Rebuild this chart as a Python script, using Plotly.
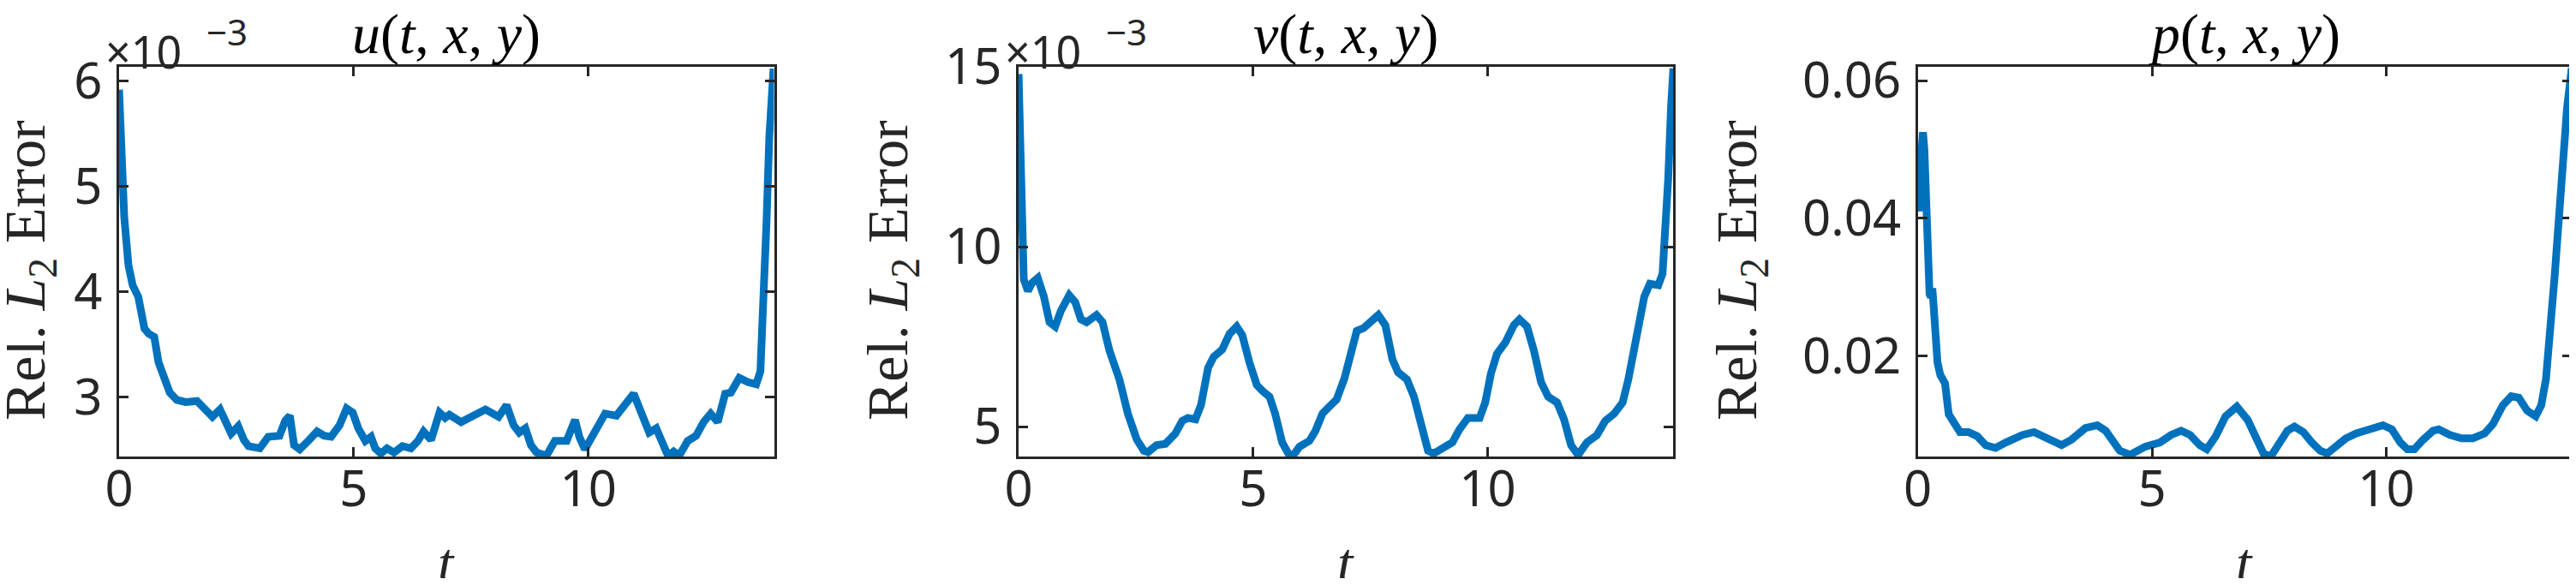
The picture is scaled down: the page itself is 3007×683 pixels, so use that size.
import numpy as np
import plotly.graph_objects as go

# The page body has an 8px margin; the figure is sized so that it fits the
# 3007x683 window without scrollbars and screen pixels map to figure pixels - 8.
OFF = 8
W, H = 3007 - OFF, 683 - 2 * OFF

# ---------------- data ----------------
t_u = [0.00, 0.05, 0.11, 0.20, 0.29, 0.41, 0.54, 0.63, 0.75, 0.84, 0.96, 1.08, 1.23, 1.42,
       1.66, 1.84, 1.99, 2.15, 2.27, 2.39, 2.54, 2.66, 2.76, 3.00, 3.18, 3.42, 3.54, 3.64,
       3.73, 3.85, 4.03, 4.22, 4.37, 4.52, 4.70, 4.85, 4.98, 5.10, 5.25, 5.37, 5.46, 5.58,
       5.71, 5.86, 6.04, 6.22, 6.37, 6.49, 6.65, 6.83, 6.95, 7.04, 7.29, 7.57, 7.81, 8.09,
       8.26, 8.41, 8.53, 8.66, 8.78, 8.90, 9.11, 9.29, 9.54, 9.72, 9.81, 9.93, 10.12, 10.36,
       10.60, 10.78, 10.97, 11.12, 11.30, 11.45, 11.58, 11.70, 11.82, 11.94, 12.12, 12.30,
       12.46, 12.61, 12.76, 12.92, 13.04, 13.22, 13.40, 13.58, 13.67, 13.74, 13.80, 13.86,
       13.95]
u_err_e3 = [5.92, 5.20, 4.71, 4.25, 4.06, 3.95, 3.65, 3.60, 3.57, 3.33, 3.19, 3.04, 2.97, 2.95,
            2.96, 2.88, 2.81, 2.88, 2.78, 2.65, 2.72, 2.59, 2.53, 2.51, 2.62, 2.63, 2.77, 2.82,
            2.54, 2.50, 2.58, 2.67, 2.63, 2.62, 2.73, 2.89, 2.85, 2.70, 2.58, 2.62, 2.51, 2.46,
            2.51, 2.47, 2.53, 2.51, 2.58, 2.67, 2.59, 2.85, 2.80, 2.83, 2.76, 2.82, 2.88, 2.81,
            2.92, 2.73, 2.66, 2.70, 2.54, 2.47, 2.44, 2.58, 2.58, 2.78, 2.62, 2.50, 2.65, 2.84,
            2.82, 2.91, 3.03, 2.86, 2.66, 2.70, 2.54, 2.44, 2.48, 2.44, 2.58, 2.63,
            2.76, 2.84, 2.76, 3.03, 3.04, 3.18, 3.14, 3.12, 3.24, 3.84, 4.66, 5.47,
            6.12]

t_v = [0.00, 0.05, 0.11, 0.20, 0.29, 0.41, 0.54, 0.66, 0.78, 0.90, 1.08, 1.21, 1.33, 1.45,
       1.66, 1.79, 1.94, 2.15, 2.33, 2.52, 2.67, 2.76, 2.94, 3.13, 3.34, 3.49, 3.61, 3.77,
       3.89, 4.04, 4.16, 4.34, 4.50, 4.65, 4.77, 4.92, 5.08, 5.20, 5.35, 5.47, 5.62, 5.75,
       5.84, 5.99, 6.20, 6.33, 6.48, 6.60, 6.78, 6.95, 7.09, 7.21, 7.36, 7.51, 7.67, 7.82,
       7.97, 8.09, 8.28, 8.43, 8.58, 8.73, 8.85, 9.10, 9.25, 9.40, 9.58, 9.83, 9.95, 10.07,
       10.20, 10.38, 10.56, 10.68, 10.84, 10.99, 11.14, 11.29, 11.48, 11.63, 11.78, 11.93,
       12.12, 12.33, 12.51, 12.70, 12.88, 13.00, 13.12, 13.21, 13.34, 13.46, 13.64, 13.73,
       13.79, 13.85, 13.91, 13.96]
v_err_e3 = [14.80, 11.47, 9.09, 8.77, 9.00, 9.13, 8.61, 7.90, 7.78, 8.21, 8.65, 8.45, 7.98, 7.90,
            8.10, 7.90, 7.10, 6.31, 5.36, 4.64, 4.33, 4.29, 4.48, 4.52, 4.80, 5.16, 5.24, 5.20,
            5.60, 6.63, 6.94, 7.14, 7.58, 7.78, 7.54, 6.79, 6.15, 5.99, 5.83, 5.36, 4.56, 4.25,
            4.17, 4.44, 4.60, 4.88, 5.36, 5.52, 5.75, 6.35, 7.10, 7.66, 7.74, 7.94, 8.10, 7.82,
            6.87, 6.51, 6.31, 5.83, 5.04, 4.33, 4.25, 4.44, 4.56, 4.92, 5.24, 5.24, 5.67, 6.47,
            7.02, 7.34, 7.82, 7.98, 7.78, 7.10, 6.23, 5.83, 5.67, 5.20, 4.48, 4.21,
            4.56, 4.76, 5.16, 5.36, 5.67, 6.31, 7.18, 7.82, 8.61, 8.97, 8.93, 9.25,
            10.28, 11.87, 13.85, 14.96]

t_p = [0.00, 0.02, 0.05, 0.08, 0.11, 0.14, 0.16, 0.18, 0.22, 0.25, 0.28, 0.31, 0.34, 0.38,
       0.42, 0.48, 0.58, 0.66, 0.78, 0.90, 1.08, 1.27, 1.45, 1.66, 1.88, 2.24, 2.48, 2.73,
       3.07, 3.28, 3.58, 3.83, 4.01, 4.31, 4.53, 4.86, 5.17, 5.41, 5.62, 5.81, 6.02, 6.17,
       6.36, 6.57, 6.81, 7.04, 7.22, 7.38, 7.53, 7.71, 7.89, 8.04, 8.23, 8.41, 8.59, 8.74,
       8.93, 9.14, 9.35, 9.60, 9.93, 10.12, 10.30, 10.45, 10.60, 10.79, 11.00, 11.12, 11.36,
       11.61, 11.85, 12.10, 12.28, 12.49, 12.67, 12.83, 13.01, 13.19, 13.31, 13.41, 13.50,
       13.59, 13.68, 13.77, 13.86, 13.96]
p_err = [0.0435, 0.0410, 0.0470, 0.0520, 0.0525, 0.0500, 0.0440, 0.0400, 0.0340, 0.0290,
         0.0285, 0.0298, 0.0270, 0.0220, 0.0190, 0.0172, 0.0160, 0.0115, 0.0100, 0.0089,
         0.0089, 0.0083, 0.0070, 0.0066, 0.0074, 0.0085, 0.0089, 0.0080, 0.0070, 0.0078,
         0.0095, 0.0099, 0.0091, 0.0062, 0.0056, 0.0068, 0.0074, 0.0085, 0.0091, 0.0085,
         0.0070, 0.0064, 0.0083, 0.0112, 0.0126, 0.0107, 0.0078, 0.0058, 0.0053, 0.0074,
         0.0091, 0.0097, 0.0089, 0.0074, 0.0062, 0.0058, 0.0068, 0.0080, 0.0087, 0.0093,
         0.0099, 0.0093, 0.0074, 0.0064, 0.0064, 0.0078, 0.0091, 0.0093, 0.0085, 0.0080,
         0.0080, 0.0087, 0.0101, 0.0128, 0.0141, 0.0139, 0.0120, 0.0112, 0.0128, 0.0166,
         0.0228, 0.0311, 0.0394, 0.0485, 0.0560, 0.0618]

titles = ["<i>u</i>(<i>t</i>, <i>x</i>, <i>y</i>)",
          "<i>v</i>(<i>t</i>, <i>x</i>, <i>y</i>)",
          "<i>p</i>(<i>t</i>, <i>x</i>, <i>y</i>)"]
ylabel = "Rel. <i>L</i><sub>2</sub> Error"
xlabel = "<i>t</i>"
x_ticks = [0, 5, 10]
u_ticks = [3, 4, 5, 6]
v_ticks = [5, 10, 15]
p_ticks = [0.02, 0.04, 0.06]
p_ticktext = ["0.02", "0.04", "0.06"]

# ---------------- style ----------------
BLUE = "#0072BD"
AX = "#262626"
TICKFONT = dict(family="Noto Sans", size=58, color=AX)
SERIF = "Liberation Serif"

# screen-pixel geometry of the three axes boxes
boxes_px = [(139, 903.5), (1189, 1953.3), (2238.7, 3002)]
top_px, bot_px = 78, 533


def px_x(x):
    return (x - OFF) / W


def px_y(y):
    return 1 - (y - OFF) / H


fig = go.Figure()

series = [
    (t_u, np.array(u_err_e3) * 1e-3),
    (t_v, np.array(v_err_e3) * 1e-3),
    (t_p, np.array(p_err)),
]
yranges = [[2.432e-3, 6.138e-3], [4.167e-3, 15.0e-3], [0.00535, 0.0620]]
ytickvals = [[v * 1e-3 for v in u_ticks], [v * 1e-3 for v in v_ticks], p_ticks]
yticktext = [[str(v) for v in u_ticks], [str(v) for v in v_ticks], p_ticktext]

for i, (tx, ty) in enumerate(series):
    n = "" if i == 0 else str(i + 1)
    fig.add_trace(go.Scatter(x=tx, y=ty, mode="lines",
                             line=dict(color=BLUE, width=9),
                             xaxis="x" + n, yaxis="y" + n, showlegend=False))
    x0, x1 = boxes_px[i]
    common = dict(showline=True, linecolor=AX, linewidth=3, mirror="ticks",
                  ticks="inside", ticklen=11, tickwidth=3, tickcolor=AX,
                  showgrid=False, zeroline=False, tickfont=TICKFONT,
                  automargin=False)
    fig.update_layout(**{
        "xaxis" + n: dict(domain=[px_x(x0), px_x(x1)], range=[0, 13.96],
                          tickvals=x_ticks, anchor="y" + n,
                          ticklabelstandoff=-15, **common),
        "yaxis" + n: dict(domain=[px_y(bot_px), px_y(top_px)], range=yranges[i],
                          tickvals=ytickvals[i], ticktext=yticktext[i],
                          anchor="x" + n, ticklabelstandoff=5, **common),
    })
    cx = (x0 + x1) / 2
    # title
    fig.add_annotation(text=titles[i], xref="paper", yref="paper",
                       x=px_x(cx), y=px_y(40), xanchor="center", yanchor="middle",
                       showarrow=False, font=dict(family=SERIF, size=66, color="#000000"))
    # x label
    fig.add_annotation(text=xlabel, xref="paper", yref="paper",
                       x=px_x(cx), y=px_y(656), xanchor="center", yanchor="middle",
                       showarrow=False, font=dict(family=SERIF, size=66, color=AX))

# y labels
for xc in [33, 1040, 2031]:
    fig.add_annotation(text=ylabel, xref="paper", yref="paper",
                       x=px_x(xc), y=px_y(316), xanchor="center", yanchor="middle",
                       textangle=-90, showarrow=False,
                       font=dict(family=SERIF, size=68, color=AX))

# exponent multipliers (MATLAB style "x10^-3" above the y axis)
for ax_left in [139, 1189]:
    fig.add_annotation(text="×10", xref="paper", yref="paper",
                       x=px_x(ax_left - 18), y=px_y(59), xanchor="left", yanchor="middle",
                       showarrow=False, font=dict(family="Noto Sans", size=52, color=AX))
    fig.add_annotation(text="−3", xref="paper", yref="paper",
                       x=px_x(ax_left + 100), y=px_y(37), xanchor="left", yanchor="middle",
                       showarrow=False, font=dict(family="Noto Sans", size=42, color=AX))

fig.update_layout(width=W, height=H, margin=dict(l=0, r=0, t=0, b=0, autoexpand=False),
                  paper_bgcolor="white", plot_bgcolor="white")

fig.write_html("out.html")
